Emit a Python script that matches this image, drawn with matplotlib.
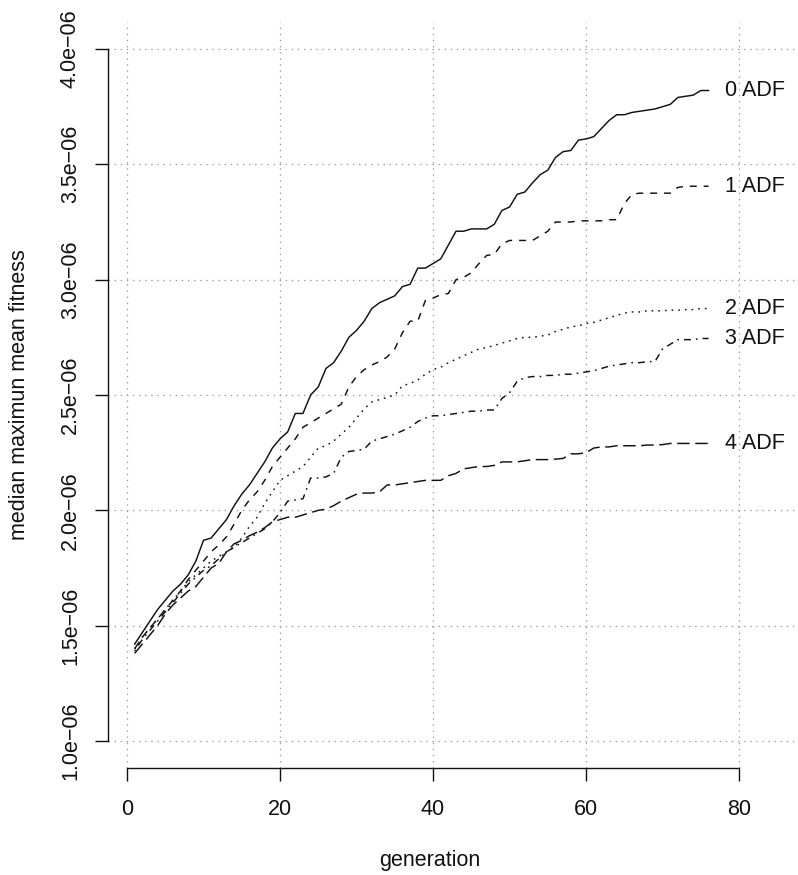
import matplotlib
matplotlib.use("Agg")
import matplotlib.pyplot as plt
import numpy as np

plt.rcParams['font.family'] = ['Liberation Sans', 'DejaVu Sans']
plt.rcParams['lines.scale_dashes'] = False

generation = list(range(1, 77))

adf0 = [1.42, 1.47, 1.52, 1.57, 1.61, 1.65, 1.68, 1.72, 1.78, 1.87,
        1.88, 1.92, 1.96, 2.02, 2.07, 2.11, 2.16, 2.21, 2.27, 2.31,
        2.34, 2.42, 2.42, 2.50, 2.535, 2.615, 2.64, 2.69, 2.75, 2.78,
        2.82, 2.875, 2.90, 2.915, 2.93, 2.97, 2.98, 3.05, 3.05, 3.07,
        3.09, 3.15, 3.21, 3.21, 3.22, 3.22, 3.22, 3.24, 3.30, 3.315,
        3.37, 3.38, 3.42, 3.455, 3.475, 3.53, 3.555, 3.56, 3.605, 3.61,
        3.62, 3.655, 3.69, 3.715, 3.715, 3.725, 3.73, 3.735, 3.74, 3.75,
        3.76, 3.79, 3.795, 3.80, 3.82, 3.82]

adf1 = [1.40, 1.45, 1.49, 1.53, 1.57, 1.61, 1.65, 1.70, 1.74, 1.78,
        1.82, 1.85, 1.885, 1.94, 2.00, 2.045, 2.08, 2.13, 2.19, 2.23,
        2.27, 2.31, 2.36, 2.38, 2.40, 2.42, 2.44, 2.46, 2.535, 2.58,
        2.61, 2.63, 2.645, 2.665, 2.70, 2.77, 2.82, 2.82, 2.91, 2.92,
        2.935, 2.94, 3.00, 3.01, 3.03, 3.07, 3.105, 3.11, 3.155, 3.17,
        3.17, 3.17, 3.17, 3.19, 3.21, 3.25, 3.25, 3.25, 3.255, 3.255,
        3.255, 3.255, 3.26, 3.26, 3.33, 3.37, 3.375, 3.375, 3.375, 3.375,
        3.375, 3.40, 3.405, 3.405, 3.405, 3.405]

adf2 = [1.40, 1.45, 1.49, 1.53, 1.57, 1.61, 1.65, 1.69, 1.72, 1.75,
        1.78, 1.80, 1.82, 1.84, 1.88, 1.93, 1.97, 2.03, 2.08, 2.13,
        2.15, 2.17, 2.19, 2.23, 2.27, 2.28, 2.30, 2.33, 2.36, 2.40,
        2.44, 2.47, 2.48, 2.49, 2.50, 2.54, 2.55, 2.565, 2.59, 2.61,
        2.62, 2.64, 2.655, 2.67, 2.685, 2.70, 2.705, 2.715, 2.725, 2.735,
        2.745, 2.75, 2.75, 2.755, 2.76, 2.775, 2.785, 2.795, 2.80, 2.81,
        2.815, 2.825, 2.835, 2.845, 2.855, 2.86, 2.86, 2.865, 2.865, 2.865,
        2.868, 2.868, 2.87, 2.87, 2.875, 2.875]

adf3 = [1.39, 1.44, 1.48, 1.52, 1.56, 1.60, 1.64, 1.68, 1.71, 1.74,
        1.76, 1.79, 1.82, 1.84, 1.86, 1.88, 1.90, 1.92, 1.95, 1.99,
        2.04, 2.045, 2.05, 2.14, 2.14, 2.145, 2.16, 2.23, 2.255, 2.26,
        2.265, 2.30, 2.31, 2.32, 2.33, 2.345, 2.36, 2.385, 2.40, 2.41,
        2.41, 2.415, 2.42, 2.425, 2.43, 2.43, 2.435, 2.435, 2.485, 2.51,
        2.56, 2.575, 2.58, 2.58, 2.585, 2.585, 2.59, 2.59, 2.595, 2.60,
        2.605, 2.615, 2.625, 2.63, 2.635, 2.64, 2.64, 2.645, 2.645, 2.70,
        2.72, 2.74, 2.74, 2.74, 2.745, 2.745]

adf4 = [1.38, 1.42, 1.46, 1.50, 1.55, 1.59, 1.62, 1.65, 1.67, 1.71,
        1.75, 1.77, 1.82, 1.855, 1.87, 1.89, 1.905, 1.925, 1.95, 1.96,
        1.97, 1.97, 1.98, 1.99, 2.00, 2.005, 2.02, 2.04, 2.055, 2.07,
        2.075, 2.075, 2.08, 2.11, 2.11, 2.115, 2.12, 2.125, 2.13, 2.13,
        2.13, 2.15, 2.16, 2.18, 2.185, 2.19, 2.19, 2.195, 2.21, 2.21,
        2.21, 2.215, 2.22, 2.22, 2.22, 2.222, 2.225, 2.245, 2.245, 2.25,
        2.27, 2.275, 2.275, 2.28, 2.28, 2.28, 2.28, 2.283, 2.283, 2.285,
        2.29, 2.29, 2.29, 2.29, 2.29, 2.29]

series = [adf0, adf1, adf2, adf3, adf4]
series_labels = ["0 ADF", "1 ADF", "2 ADF", "3 ADF", "4 ADF"]

x_ticks = [0, 20, 40, 60, 80]
y_ticks = [1.0e-06, 1.5e-06, 2.0e-06, 2.5e-06, 3.0e-06, 3.5e-06, 4.0e-06]
y_tick_labels = ["1.0e\u221206", "1.5e\u221206", "2.0e\u221206", "2.5e\u221206",
                 "3.0e\u221206", "3.5e\u221206", "4.0e\u221206"]

W, H = 798, 875
fig = plt.figure(figsize=(W / 100, H / 100), dpi=100)
left, right, top, bottom = 108, 795, 22, 768
ax = fig.add_axes([left / W, 1 - bottom / H, (right - left) / W, (bottom - top) / H])

ax.set_xlim(-2.48, 87.3)
ax.set_ylim(0.883e-06, 4.117e-06)

styles = [
    dict(linestyle='-'),
    dict(dashes=(5, 5)),
    dict(dashes=(1.2, 3.6)),
    dict(dashes=(1.2, 3.6, 5, 3.6)),
    dict(dashes=(9, 4)),
]

ink = '#111111'
lw = 1.05
fs = 15.5
for vals, lab, st in zip(series, series_labels, styles):
    yv = np.array(vals) * 1e-06
    ax.plot(generation, yv, color=ink, lw=lw, zorder=3, **st)
    ax.annotate(lab, xy=(generation[-1], yv[-1]), xytext=(11.5, 0),
                textcoords='offset points', ha='left', va='center',
                fontsize=fs, color=ink)

ax.set_xticks(x_ticks)
ax.set_xticklabels([str(v) for v in x_ticks])
ax.set_yticks(y_ticks)
ax.set_yticklabels(y_tick_labels, rotation=90, va='center')

ax.grid(True, color='#9a9a9a', linestyle=(0, (1.0, 3.4)), lw=0.9, zorder=1)

for s in ['top', 'right']:
    ax.spines[s].set_visible(False)
ax.spines['left'].set_bounds(1.0e-06, 4.0e-06)
ax.spines['bottom'].set_bounds(0, 80)
for s in ['left', 'bottom']:
    ax.spines[s].set_linewidth(1.0)
    ax.spines[s].set_color(ink)

ax.tick_params(axis='both', direction='out', length=9.5, width=1.0,
               color=ink, labelsize=fs, labelcolor=ink)
ax.tick_params(axis='x', pad=12.5)
ax.tick_params(axis='y', pad=10)

fig.text(430 / W, 1 - 866 / H, "generation", ha='center', va='baseline',
         fontsize=fs, color=ink)
fig.text(25 / W, 1 - 395 / H, "median maximun mean fitness", ha='center',
         va='baseline', rotation=90, rotation_mode='anchor', fontsize=fs,
         color=ink)

fig.savefig("out.png", dpi=100)
